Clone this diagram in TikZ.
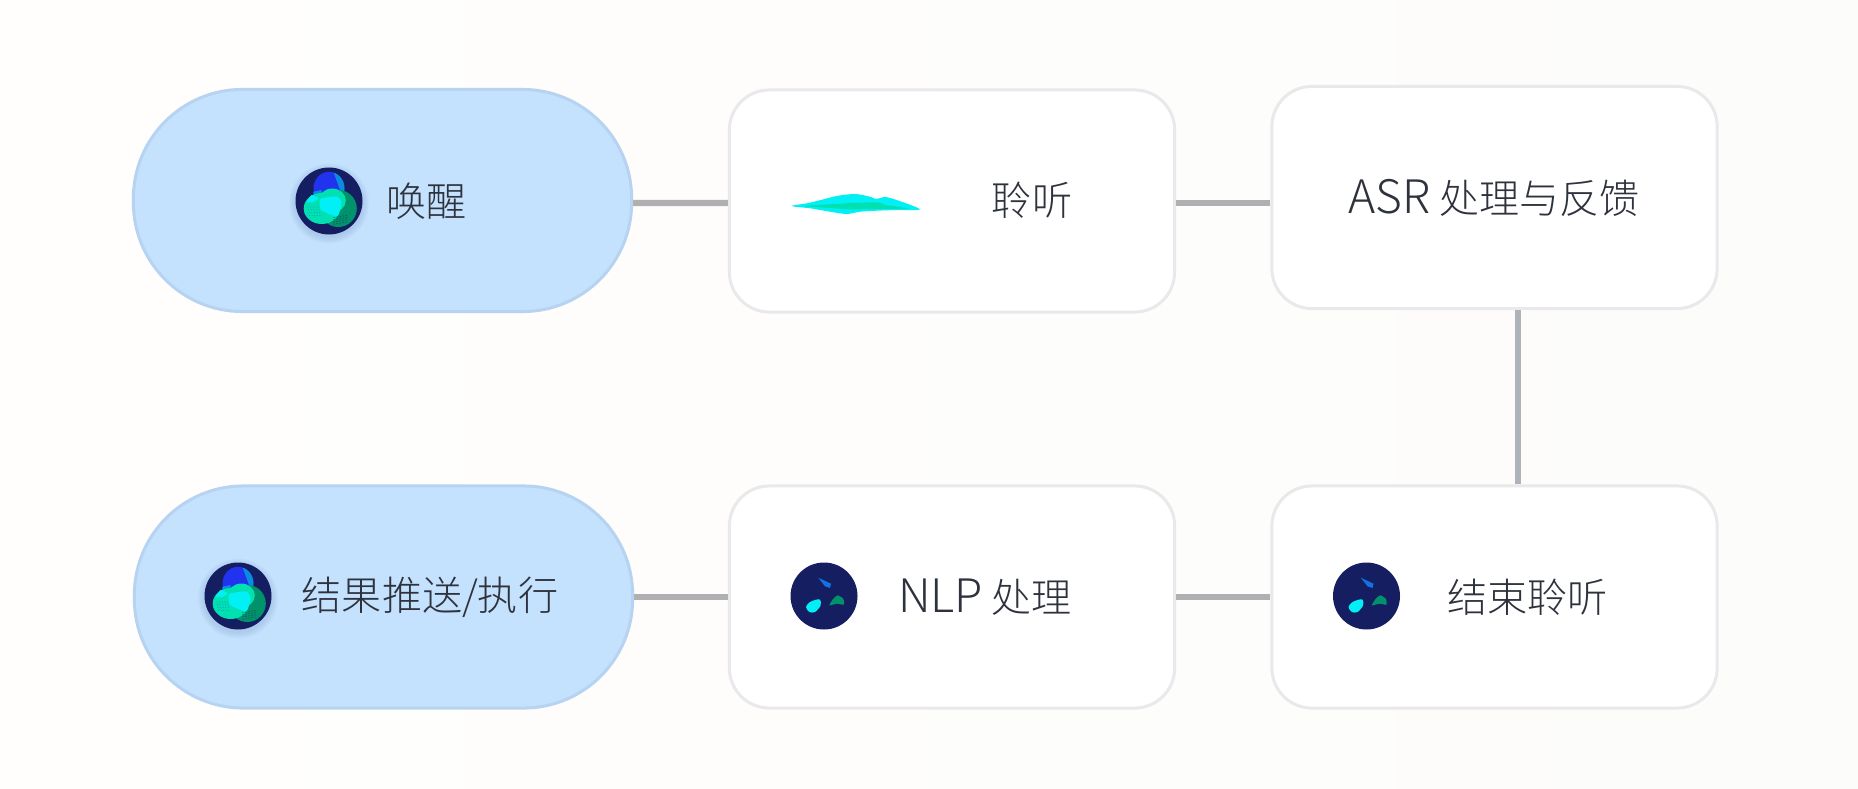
\documentclass[tikz,border=0pt]{standalone}
\usepackage{fontspec}
\setmainfont{Noto Sans CJK SC Light}
\newfontfamily\latinface[Scale=1.15]{Noto Sans CJK SC Light}
\definecolor{pillfill}{HTML}{C4E1FE}
\definecolor{pillline}{HTML}{B6D3F1}
\definecolor{boxline}{HTML}{E9E9EC}
\definecolor{linkgray}{HTML}{B0B0B2}
\definecolor{linkblue}{HTML}{ADB3B9}
\definecolor{labelink}{HTML}{2E323C}
\definecolor{orbnavy}{HTML}{141E61}
\definecolor{orbblue}{HTML}{2233F0}
\definecolor{orbsky}{HTML}{0A8CE0}
\definecolor{orbmint}{HTML}{00E0B0}
\definecolor{orbgreen}{HTML}{00936B}
\definecolor{orbcyan}{HTML}{00F0F5}
\definecolor{glowblue}{HTML}{8FB2D8}
\definecolor{bgleft}{HTML}{FFFEFD}
\definecolor{bgmiddle}{HTML}{FFFCF9}
\definecolor{bgright}{HTML}{FCFCFB}
\tikzset{
    pillbox/.style={draw=pillline, fill=pillfill, line width=0.03cm, rounded corners=1.09cm, minimum width=4.98cm, minimum height=2.22cm},
    stepbox/.style={draw=boxline, fill=white, line width=0.03cm, rounded corners=0.4cm, minimum width=4.45cm, minimum height=2.22cm},
    label/.style={font=\fontsize{11.4pt}{13pt}\selectfont, text=labelink, inner sep=0pt},
    link/.style={draw=linkgray, line width=0.06cm},
    orbicon/.pic={
        % Glow under the disc
        \foreach \r in {34,35,...,40} {
            \fill[glowblue, opacity=0.07] (0,2.5) circle [radius=\r];
        }
        \fill[orbnavy] (0,0) circle [radius=33.5];
        % Three lobes
        \fill[orbblue] (0,-12.7) ellipse [x radius=15.5, y radius=16.5];
        \begin{scope}
            \clip (0,-12.7) ellipse [x radius=15.5, y radius=16.5];
            \fill[orbsky] (4.3,-29.5) -- (11,-11) -- (15,-5) -- (19,-29) -- cycle;
        \end{scope}
        \fill[orbsky] (-15.7,-9.3) -- (-7.3,-11) -- (-7,3) -- (-15,0) -- cycle;
        \fill[orbgreen] (9.3,7.5) ellipse [x radius=18.5, y radius=18.5];
        \fill[orbmint] (-7.3,7.5) ellipse [x radius=18, y radius=15.5];
        \fill[orbmint] (3.3,-0.5) ellipse [x radius=13.5, y radius=12];
        % Bright overlap
        \fill[orbcyan] plot [smooth cycle, tension=0.4] coordinates {(-8.5,-2) (8,-4.5) (12.5,2.3) (8.5,15) (-2.5,12) (-8.5,8)};
        \fill[orbcyan] plot [smooth cycle, tension=0.4] coordinates {(-22.3,1) (-17.3,-6) (-10.7,-2.7) (-15.7,1)};
        % Dots
        \foreach \i in {0,...,4} {
            \foreach \j in {0,...,3} {
                \fill[orbsky] (-21+2.6*\i+0.5*\j,6+2.8*\j) circle [radius=0.45];
                \fill[orbnavy] (5+3*\i,16.5+2.2*\j-0.5*\i) circle [radius=0.5];
            }
        }
    },
    shardicon/.pic={
        \fill[orbnavy] (0,0) circle [radius=33.5];
        \fill[orbsky!70!orbblue] (-5.7,-18.3) -- (7,-12.3) -- (6,-8) -- (1,-9.7) -- cycle;
        \fill[orbcyan] plot [smooth cycle, tension=0.5] coordinates {(-18,11) (-14,6) (-4.7,3.3) (-3.3,9.3) (-9,16) (-14.7,16)};
        \fill[orbgreen] plot [smooth cycle, tension=0.3] coordinates {(5.3,9.3) (9.3,2.7) (13.7,-0.7) (19.3,2.7) (20,8.7) (12.7,7.7)};
    }
}
\begin{document}
\begin{tikzpicture}[x=0.01cm, y=-0.01cm]
    \useasboundingbox (0,0) rectangle (1858,788);
    % Background
    \shade[left color=bgleft, middle color=bgmiddle, right color=bgright] (0,0) rectangle (1858,788);

    % Boxes
    \node[pillbox] (wake) at (382.5,200.5) {};
    \node[stepbox] (listen) at (952,201) {};
    \node[stepbox] (asr) at (1494.5,197.5) {};
    \node[pillbox] (result) at (383.5,597) {};
    \node[stepbox] (nlp) at (952,597) {};
    \node[stepbox] (finish) at (1494.5,597) {};

    % Links
    \draw[link] ([yshift=-0.025cm]wake.east) -- ([yshift=-0.02cm]listen.west);
    \draw[link] ([yshift=-0.02cm]listen.east) -- ([yshift=-0.02cm]listen.east -| asr.west);
    \draw[link, draw=linkblue] ([xshift=0.235cm]asr.south) -- ([xshift=0.235cm]finish.north);
    \draw[link] (result.east) -- (nlp.west);
    \draw[link] (nlp.east) -- (finish.west);

    % Icons
    \pic at (329,201) {orbicon};
    \pic at (238,596) {orbicon};
    \pic at (824,596) {shardicon};
    \pic at (1366.5,596) {shardicon};
    \fill[orbcyan] plot [smooth cycle, tension=0.45] coordinates {(791.7,206) (810,202.7) (836.7,196) (855,194) (870,196.7) (876,199) (885,197) (896.7,200) (920,209.3) (896.7,210) (876.7,210.7) (860,211.7) (846.7,214) (830,211.7) (810,208.3)};
    \fill[orbmint] plot [smooth cycle, tension=0.3] coordinates {(805,206) (846.7,203.3) (876.7,202.3) (886.7,205) (908.3,208.7) (876.7,209) (850,209.3) (820,207.3)};

    % Labels
    \node[label] (wakelabel) at (426.5,201) {唤醒};
    \node[label] (listenlabel) at (1032,200) {聆听};
    \node[label] (asrlabel) at (1494,198) {{\latinface ASR} 处理与反馈};
    \node[label] (resultlabel) at (430,597) {结果推送/执行};
    \node[label] (nlplabel) at (985,597) {{\latinface NLP} 处理};
    \node[label] (finishlabel) at (1527.5,597) {结束聆听};
\end{tikzpicture}
\end{document}
